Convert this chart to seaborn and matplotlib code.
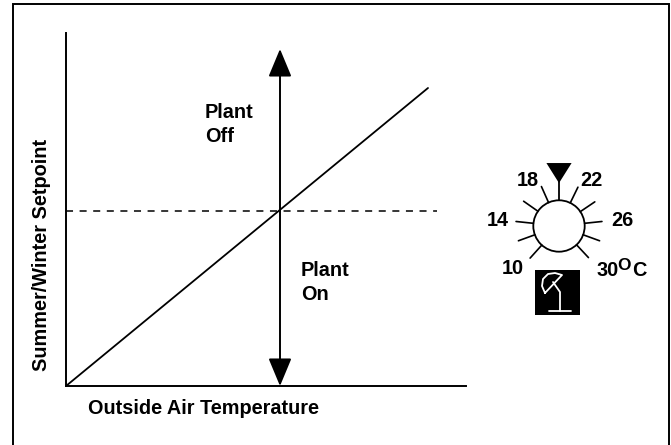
import numpy as np
import matplotlib
matplotlib.use('Agg')
import matplotlib.pyplot as plt
import seaborn as sns
from matplotlib.patches import Rectangle, Circle

W, H = 671, 445

outside_temp = [0, 362]
plant_line = [0, 298]
setpoint_x = [0, 371]
setpoint_y = [175, 175]
changeover_x = 214
arrow_bottom = 0
arrow_top = 337

dial_angles = [114, 145, 174, 200, 228, 64, 34, 6, -20, -47]


def box(x0, y0, x1, y1):
    return [x0 / W, 1 - y1 / H, (x1 - x0) / W, (y1 - y0) / H]


sns.set_theme(style='white')
plt.rcParams['font.family'] = ['Liberation Sans', 'DejaVu Sans']
plt.rcParams['font.weight'] = 'bold'

fig = plt.figure(figsize=(W / 100, H / 100), dpi=100)


def label(x, y, s, size=14.3, **kw):
    kw.setdefault('ha', 'left')
    kw.setdefault('va', 'center')
    fig.text(x / W, 1 - y / H, s, fontsize=size, color='black', fontweight='bold', **kw)


fig.add_artist(Rectangle((13 / W, 1 - 460 / H), 656 / W, 456.5 / H, transform=fig.transFigure,
                         fill=False, edgecolor='black', linewidth=1.4))

ax = fig.add_axes(box(66, 33, 466, 386))
ax.set_xlim(0, 400)
ax.set_ylim(0, 353)
ax.patch.set_alpha(0)
sns.lineplot(x=outside_temp, y=plant_line, ax=ax, color='black', linewidth=1.3)
sns.lineplot(x=setpoint_x, y=setpoint_y, ax=ax, color='black', linewidth=1.1, linestyle=(0, (4.6, 4.3)))
ax.annotate('', xy=(changeover_x, arrow_top), xytext=(changeover_x, arrow_bottom),
            arrowprops=dict(arrowstyle='<|-|>,head_length=1.73,head_width=0.72', mutation_scale=10,
                            shrinkA=0, shrinkB=0, color='black', linewidth=1.4))
ax.set_xticks([])
ax.set_yticks([])
sns.despine(ax=ax)
for side in ['left', 'bottom']:
    ax.spines[side].set_color('black')
    ax.spines[side].set_linewidth(1.4)

label(88, 409, 'Outside Air Temperature')
label(42, 254.5, 'Summer/Winter Setpoint', rotation=90, ha='center')
label(205, 112, 'Plant')
label(205, 137, 'Off')
label(301, 270, 'Plant')
label(301, 294, 'On')

# dial, radius of the circle is one unit
R = 25.7
dial = fig.add_axes(box(559 - 70, 226 - 70, 559 + 70, 226 + 70))
dial.set_xlim(-70 / R, 70 / R)
dial.set_ylim(-70 / R, 70 / R)
dial.axis('off')
dial.add_patch(Circle((0, 0), 1, fill=False, edgecolor='black', linewidth=1.3))
for a in dial_angles:
    t = np.deg2rad(a)
    dial.plot([np.cos(t), 1.68 * np.cos(t)], [np.sin(t), 1.68 * np.sin(t)], color='black', linewidth=1.2)
dial.plot([0, 0], [1, 1.9], color='black', linewidth=1.3)
dial.fill([-0.49, 0.49, 0], [2.45, 2.45, 1.67], color='black', linewidth=0)

label(517, 180, '18')
label(580, 180, '22')
label(487, 220, '14')
label(611, 220, '26')
label(502, 268, '10')
label(597, 271, '30')
label(617, 266, 'O', size=12.5)
label(632, 271, 'C')

# lamp icon
icon = fig.add_axes(box(535, 270, 580, 315))
icon.set_xlim(0, 45)
icon.set_ylim(45, 0)
icon.set_xticks([])
icon.set_yticks([])
icon.set_facecolor('black')
for s in icon.spines.values():
    s.set_visible(False)
icon.plot([14, 36], [41, 41], color='white', linewidth=1.3)
icon.plot([25, 25, 18], [41, 22, 12], color='white', linewidth=1.3)
icon.plot([10, 7, 8, 13, 20, 27, 10], [23, 16, 9, 4, 3, 5, 23], color='white', linewidth=1.3)

fig.savefig('out.png', dpi=100)
